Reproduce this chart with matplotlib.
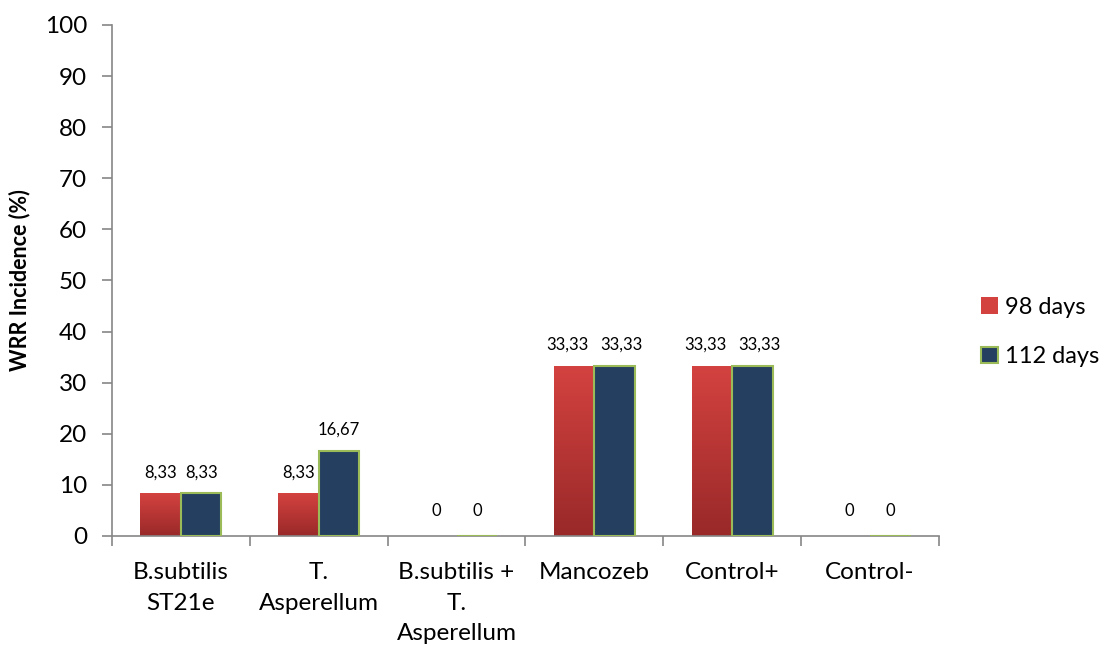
import numpy as np
import matplotlib.pyplot as plt
from matplotlib.patches import Patch

plt.rcParams['font.family'] = ['Lato', 'DejaVu Sans']

treatments = ["B.subtilis\nST21e", "T.\nAsperellum", "B.subtilis +\nT.\nAsperellum",
              "Mancozeb", "Control+", "Control-"]
days98 = [8.33, 8.33, 0, 33.33, 33.33, 0]
days112 = [8.33, 16.67, 0, 33.33, 33.33, 0]
series_names = ["98 days", "112 days"]

red_top = np.array([0.83, 0.26, 0.25])
red_bottom = np.array([0.60, 0.16, 0.16])
navy = "#243f60"
green = "#9bbb59"
grey = "#868686"

fig = plt.figure(figsize=(11, 6.47), dpi=100)
ax = fig.add_axes([0.1018, 0.1716, 0.7518, 0.7898])

x = np.arange(len(treatments))
w = 0.294

# red bars with a vertical gradient
grad = np.linspace(0, 1, 256)[:, None]
cols = red_bottom[None, :] * (1 - grad[..., None]) + red_top[None, :] * grad[..., None]
bars98 = ax.bar(x - w / 2, days98, w, color=red_top, edgecolor="none", zorder=2)
for b in bars98:
    if b.get_height() <= 0:
        continue
    bx, by = b.get_x(), b.get_y()
    im = ax.imshow(cols, extent=[bx, bx + b.get_width(), by, by + b.get_height()],
                   origin="lower", aspect="auto", zorder=2.1)
    im.set_clip_path(b)

bars112 = ax.bar(x + w / 2, days112, w, color=navy, edgecolor=green, linewidth=1.5, zorder=3)

def fmt(v):
    return "0" if v == 0 else f"{v:.2f}".replace(".", ",")

# value labels; push a pair apart when both are wide so they don't collide
for i in range(len(treatments)):
    wide = len(fmt(days98[i])) + len(fmt(days112[i])) >= 10
    nudge = 5 if wide else 0
    for bars, vals, sign in [(bars98, days98, -1), (bars112, days112, 1)]:
        b, v = bars[i], vals[i]
        off = 18 if v == 0 else 15
        ax.annotate(fmt(v), (b.get_x() + b.get_width() / 2, v), xytext=(sign * nudge, off),
                    textcoords="offset points", ha="center", va="center",
                    fontsize=12, color="black")

ax.set_xlim(-0.5, len(treatments) - 0.5)
ax.set_ylim(0, 100)
ax.set_yticks(range(0, 101, 10))
ax.set_xticks(np.arange(len(treatments) + 1) - 0.5, minor=False)
ax.set_xticklabels([])
ax.set_xticks(x, minor=True)
ax.set_xticklabels(treatments, minor=True, fontsize=17.5, linespacing=1.55, va="top")
ax.tick_params(axis="x", which="minor", length=0, pad=19)
ax.tick_params(axis="x", which="major", length=7, width=1.2, color=grey, direction="out")
ax.tick_params(axis="y", length=7, width=1.2, color=grey, direction="out", labelsize=17.5, pad=11)

for s in ["top", "right"]:
    ax.spines[s].set_visible(False)
for s in ["left", "bottom"]:
    ax.spines[s].set_color(grey)
    ax.spines[s].set_linewidth(1.2)

ax.set_ylabel("WRR Incidence (%)", fontsize=15.5, fontweight="bold", labelpad=10)

handles = [Patch(facecolor=red_top, edgecolor="none"),
           Patch(facecolor=navy, edgecolor=green, linewidth=1.5)]
fig.legend(handles, series_names, loc="center left", bbox_to_anchor=(0.892, 0.487),
           frameon=False, fontsize=17, handlelength=0.7, handleheight=0.7,
           handletextpad=0.3, labelspacing=1.2, borderpad=0, borderaxespad=0)

fig.savefig("out.png", dpi=100)
